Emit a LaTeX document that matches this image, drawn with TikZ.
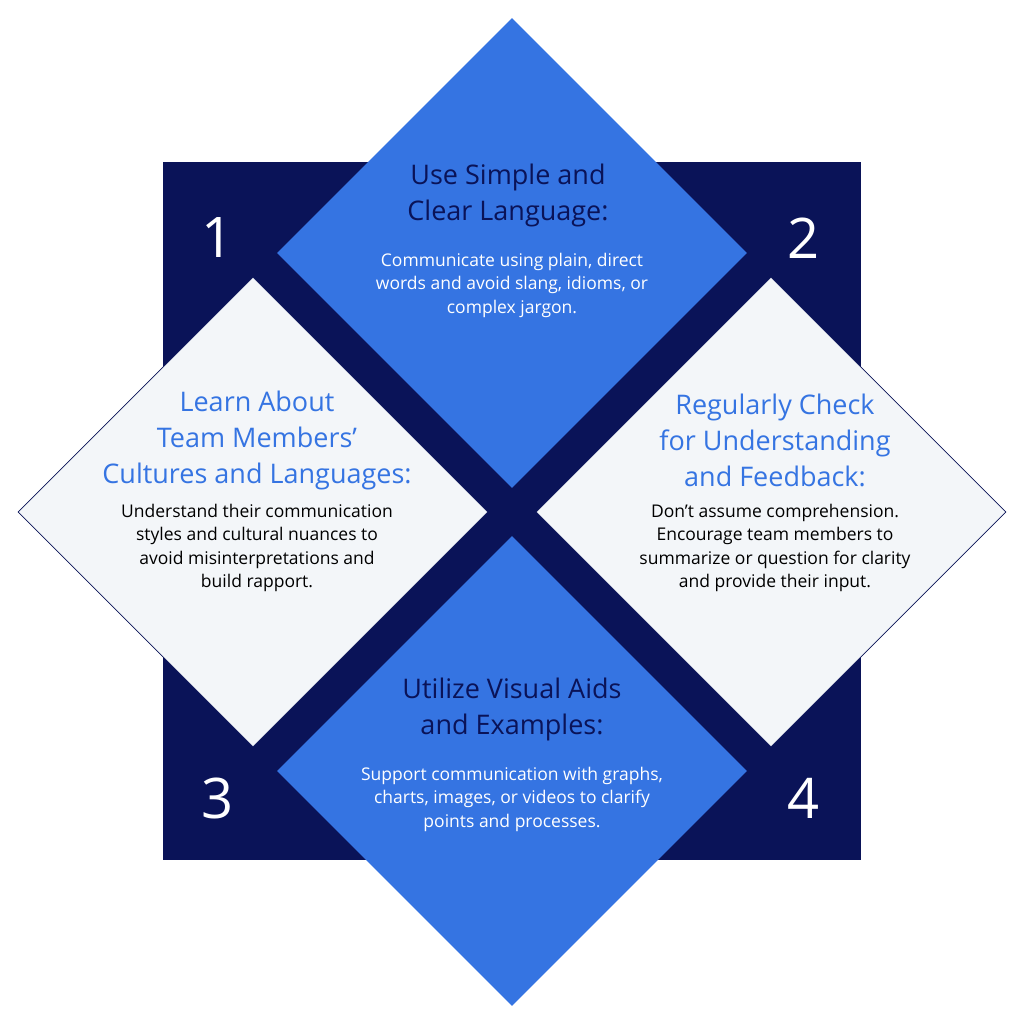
\documentclass[tikz,border=0pt]{standalone}
\usepackage{fontspec}
\setmainfont{Open Sans}
\usetikzlibrary{shapes.geometric,positioning}
\definecolor{navy}{HTML}{0A1358}
\definecolor{tileblue}{HTML}{3574E2}
\definecolor{tilegray}{HTML}{F3F6F9}
\tikzset{
  tile/.style={diamond, minimum width=470pt, minimum height=470pt, inner sep=0pt},
  num/.style={white, font=\fontsize{56}{60}\selectfont},
  head/.style={align=center, font=\fontsize{27}{36}\selectfont},
  body/.style={align=center, font=\fontsize{17.5}{23.5}\selectfont}
}
\begin{document}
\begin{tikzpicture}[x=1pt,y=-1pt]
\useasboundingbox (0,0) rectangle (1024,1024);
\fill[navy] (163,162) rectangle (861,860);
\node[num] (n1) at (218,238) {1};
\node[num] (n2) at (803,238) {2};
\node[num] (n3) at (218,798) {3};
\node[num] (n4) at (803,798) {4};

\node[tile, fill=tileblue] (top) at (512,253) {};
\node[tile, fill=tilegray, draw=navy, line width=0.6pt] (left) at (253,512) {};
\node[tile, fill=tilegray, draw=navy, line width=0.6pt] (right) at (771,512) {};
\node[tile, fill=tileblue] (bottom) at (512,771) {};

\node[head, navy] (t1) at (508,195) {Use Simple and\\Clear Language:};
\node[body, white] (b1) at (512,285) {Communicate using plain, direct\\words and avoid slang, idioms, or\\complex jargon.};

\node[head, tileblue] (t2) at (257,440) {Learn About\\Team Members'\\Cultures and Languages:};
\node[body, black] (b2) at (257,548) {Understand their communication\\styles and cultural nuances to\\avoid misinterpretations and\\build rapport.};

\node[head, tileblue] (t3) at (775,440) {Regularly Check\\for Understanding\\and Feedback:};
\node[body, black] (b3) at (775,548) {Don't assume comprehension.\\Encourage team members to\\summarize or question for clarity\\and provide their input.};

\node[head, navy] (t4) at (512,709) {Utilize Visual Aids\\and Examples:};
\node[body, white] (b4) at (512,799) {Support communication with graphs,\\charts, images, or videos to clarify\\points and processes.};
\end{tikzpicture}
\end{document}
